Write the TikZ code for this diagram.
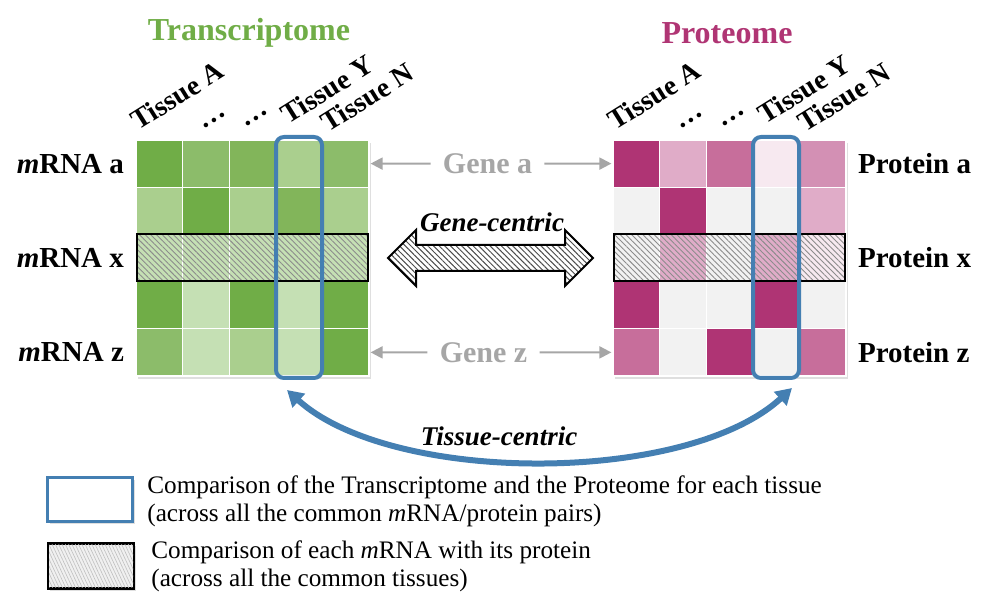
\documentclass[tikz,border=0pt]{standalone}
\usepackage{fontspec}
\setmainfont{Liberation Serif}
\usetikzlibrary{arrows.meta,shapes.arrows,patterns.meta,shadows}

\definecolor{tgreen}{RGB}{112,173,71}
\definecolor{pmag}{RGB}{176,53,116}
\definecolor{tblue}{RGB}{68,127,178}
\definecolor{ggray}{RGB}{166,166,166}
% greens (dark to light)
\definecolor{gD}{RGB}{112,173,71}
\definecolor{gN}{RGB}{130,181,90}
\definecolor{gM}{RGB}{140,188,106}
\definecolor{gL}{RGB}{170,207,142}
\definecolor{gV}{RGB}{197,224,180}
% magentas (dark to light)
\definecolor{pD}{RGB}{175,52,116}
\definecolor{pM}{RGB}{199,110,155}
\definecolor{pN}{RGB}{211,144,180}
\definecolor{pL}{RGB}{224,172,200}
\definecolor{pV}{RGB}{247,233,240}
\definecolor{pG}{RGB}{242,242,242}

\begin{document}
\begin{tikzpicture}[
    x=0.5pt, y=-0.5pt,
    cell/.style={rectangle, draw=white, line width=0.6pt, minimum width=23.3pt, minimum height=23.6pt, inner sep=0pt},
    mshadow/.style={fill=white, drop shadow={opacity=0.25, shadow xshift=1pt, shadow yshift=-1.5pt}},
    generow/.style={rectangle, draw=black, line width=1pt, minimum width=115.5pt, minimum height=23.5pt, inner sep=0pt,
        pattern={Lines[angle=-45, distance=2pt, line width=0.45pt]}, pattern color=black!45},
    tissuebox/.style={rectangle, rounded corners=4pt, draw=tblue, line width=2pt, minimum width=23pt, minimum height=120.5pt, inner sep=0pt},
    title/.style={font=\fontsize{16}{18}\selectfont\bfseries},
    rowlab/.style={font=\fontsize{14.5}{16}\selectfont\bfseries},
    tissue/.style={font=\fontsize{14}{15}\selectfont\bfseries, rotate=32, anchor=base west, inner sep=0pt},
    tdots/.style={font=\fontsize{14}{15}\selectfont\bfseries, rotate=32, inner sep=0pt},
    gene/.style={font=\fontsize{15}{17}\selectfont\bfseries, text=ggray, inner sep=6pt},
    genearrow/.style={-{Triangle[width=6pt, length=6pt]}, draw=ggray, line width=1pt, shorten >=0.5pt},
    centric/.style={font=\fontsize{13.5}{15}\selectfont\bfseries\itshape},
    tcarrow/.style={{Triangle[width=9pt, length=8pt]}-{Triangle[width=9pt, length=8pt]}, draw=tblue, line width=3pt},
    legtext/.style={font=\fontsize{12.6}{14}\selectfont, anchor=west, align=left, inner sep=0pt}
]
\useasboundingbox (0,0) rectangle (993,610);

% Titles
\node[title, text=tgreen] (ttitle) at (249,33) {Transcriptome};
\node[title, text=pmag] (ptitle) at (727,33) {Proteome};

% Matrix shadows
\fill[mshadow] (136,140) rectangle (369,376);
\fill[mshadow] (613,140) rectangle (846,376);

% Transcriptome cells
\foreach \r/\cl in {1/{gD,gM,gN,gL,gM}, 2/{gL,gD,gL,gN,gL}, 3/{gV,gV,gV,gV,gV},
    4/{gD,gV,gD,gV,gD}, 5/{gM,gV,gL,gV,gD}} {
    \foreach \col [count=\c] in \cl {
        \node[cell, fill=\col] (t\r\c) at ({136+46.6*(\c-0.5)}, {140+47.2*(\r-0.5)}) {};
    }
}

% Proteome cells
\foreach \r/\cl in {1/{pD,pL,pM,pV,pN}, 2/{pG,pD,pG,pG,pL}, 3/{pG,pL,pG,pL,pV},
    4/{pD,pG,pG,pD,pG}, 5/{pM,pG,pD,pG,pM}} {
    \foreach \col [count=\c] in \cl {
        \node[cell, fill=\col] (p\r\c) at ({613+46.6*(\c-0.5)}, {140+47.2*(\r-0.5)}) {};
    }
}

% Tissue headers
\foreach \m/\x in {t/136, p/613} {
    \node[tissue] (\m tisA) at ({\x+2}, 131) {Tissue A};
    \node[tdots] (\m dotsB) at ({\x+78}, 120) {\dots};
    \node[tdots] (\m dotsC) at ({\x+120}, 118) {\dots};
    \node[tissue] (\m tisY) at ({\x+152}, 125) {Tissue Y};
    \node[tissue] (\m tisN) at ({\x+192}, 133) {Tissue N};
}

% Row labels
\node[rowlab, anchor=east] (mrnaa) at (131,163.6) {\textit{m}RNA a};
\node[rowlab, anchor=east] (mrnax) at (131,258) {\textit{m}RNA x};
\node[rowlab, anchor=east] (mrnaz) at (131,352.4) {\textit{m}RNA z};
\node[rowlab, anchor=west] (prota) at (851,163.6) {Protein a};
\node[rowlab, anchor=west] (protx) at (851,258) {Protein x};
\node[rowlab, anchor=west] (protz) at (851,352.4) {Protein z};

% Gene-centric rows
\node[generow] (trow) at (t33) {};
\node[generow] (prow) at (p33) {};

% Tissue-centric columns
\node[tissuebox] (tboxL) at (299,257.5) {};
\node[tissuebox] (tboxR) at (776,257.5) {};

% Gene labels and arrows
\node[gene] (genea) at (487.5,163.6) {Gene a};
\node[gene] (genez) at (483.5,352.4) {Gene z};
\draw[genearrow] (genea.west) -- (t15.east);
\draw[genearrow] (genea.east) -- (p11.west);
\draw[genearrow] (genez.west) -- (t55.east);
\draw[genearrow] (genez.east) -- (p51.west);

% Gene-centric arrow
\node[double arrow, draw=black, line width=1pt, minimum height=102.5pt, inner xsep=0pt, inner ysep=6.25pt,
    double arrow head extend=7.5pt, preaction={fill=white},
    pattern={Lines[angle=-45, distance=2pt, line width=0.5pt]}, pattern color=black!70] (gcarrow) at (490.5,258) {};
\node[centric, anchor=base] (gclab) at (492,232) {Gene-centric};

% Tissue-centric arrow
\draw[tcarrow] ([xshift=-6pt, yshift=-5pt]tboxL.south) .. controls (392,485) and (687,485) .. ([xshift=8pt, yshift=-4pt]tboxR.south);
\node[centric] (tclab) at (499,436) {Tissue-centric};

% Legend
\node[rectangle, draw=tblue, line width=1.5pt, fill=white, minimum width=42.5pt, minimum height=22pt, inner sep=0pt,
    drop shadow={opacity=0.25, shadow xshift=1pt, shadow yshift=-1.5pt}] (legT) at (90,499.5) {};
\node[legtext] (legTtext) at (147,501) {Comparison of the Transcriptome and the Proteome for each tissue\\(across all the common \textit{m}RNA/protein pairs)};
\node[rectangle, draw=black, line width=1.3pt, fill=gray!12, minimum width=43pt, minimum height=22.5pt, inner sep=0pt,
    drop shadow={opacity=0.25, shadow xshift=1pt, shadow yshift=-1.5pt}] (legG) at (91,566) {};
\node[rectangle, minimum width=42pt, minimum height=21.5pt, inner sep=0pt,
    pattern={Lines[angle=-65, distance=1.5pt, line width=0.3pt]}, pattern color=black!25] at (legG) {};
\node[legtext] (legGtext) at (151,566) {Comparison of each \textit{m}RNA with its protein\\(across all the common tissues)};

\end{tikzpicture}
\end{document}
